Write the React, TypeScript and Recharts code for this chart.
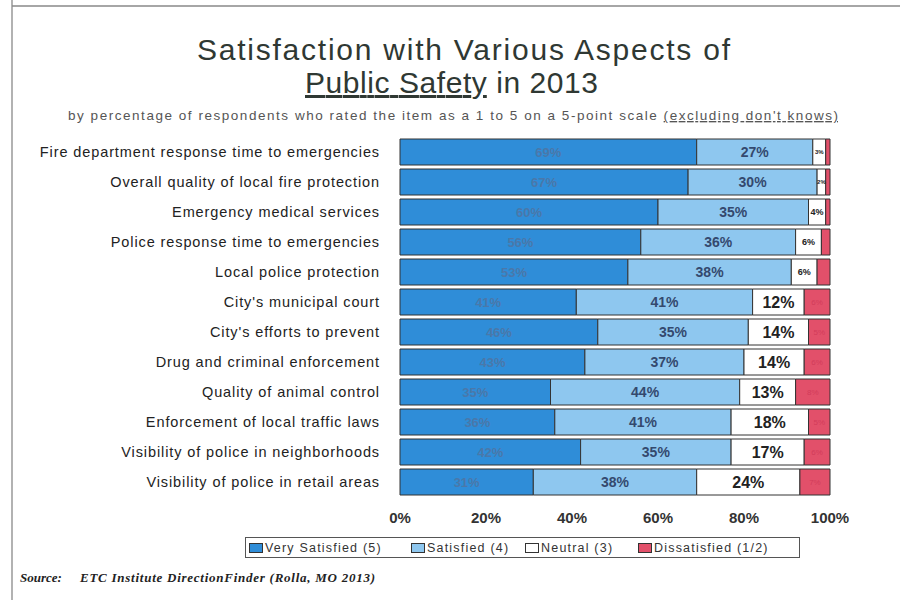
import React from "react";
import { Bar, BarChart, LabelList, XAxis, YAxis } from "recharts";

const categories = [
  "Fire department response time to emergencies",
  "Overall quality of local fire protection",
  "Emergency medical services",
  "Police response time to emergencies",
  "Local police protection",
  "City's municipal court",
  "City's efforts to prevent",
  "Drug and criminal enforcement",
  "Quality of animal control",
  "Enforcement of local traffic laws",
  "Visibility of police in neighborhoods",
  "Visibility of police in retail areas",
];
const verySatisfied = [69, 67, 60, 56, 53, 41, 46, 43, 35, 36, 42, 31];
const satisfied = [27, 30, 35, 36, 38, 41, 35, 37, 44, 41, 35, 38];
const neutral = [3, 2, 4, 6, 6, 12, 14, 14, 13, 18, 17, 24];
const dissatisfied = [1, 1, 1, 2, 3, 6, 5, 6, 8, 5, 6, 7];
const xTicks = [0, 20, 40, 60, 80, 100];

const series = [
  { key: "verySatisfied", name: "Very Satisfied (5)", color: "#2f8dd8" },
  { key: "satisfied", name: "Satisfied (4)", color: "#8ec7ef" },
  { key: "neutral", name: "Neutral (3)", color: "#ffffff" },
  { key: "dissatisfied", name: "Dissatisfied (1/2)", color: "#e2506a" },
];
const legendWidths = [162, 114, 113, 160];

const data = categories.map((name, i) => ({
  name,
  verySatisfied: verySatisfied[i],
  satisfied: satisfied[i],
  neutral: neutral[i],
  dissatisfied: dissatisfied[i],
}));

const font = "Liberation Sans, Arial, sans-serif";

const labelFor = (kind: string) => (props: any) => {
  const { x, y, width, height, value } = props;
  const cx = x + width / 2;
  const cy = y + height / 2;
  if (kind === "vs") {
    return (
      <text x={cx} y={cy} dy="0.35em" textAnchor="middle" fontSize={13} fontWeight="bold" fill="#4a78aa" fontFamily={font}>
        {value}%
      </text>
    );
  }
  if (kind === "s") {
    return (
      <text x={cx} y={cy} dy="0.35em" textAnchor="middle" fontSize={14} fontWeight="bold" fill="#34496e" fontFamily={font}>
        {value}%
      </text>
    );
  }
  if (kind === "n") {
    const big = value >= 10;
    const fs = big ? 16 : value >= 4 ? 9 : 6;
    return (
      <text x={cx} y={cy} dy="0.35em" textAnchor="middle" fontSize={fs} fontWeight="bold" fill="#222" fontFamily={font}>
        {value}%
      </text>
    );
  }
  if (value < 5) return null;
  return (
    <text x={cx} y={cy} dy="0.35em" textAnchor="middle" fontSize={8} fill="#d23c5a" fontFamily={font}>
      {value}%
    </text>
  );
};

const CategoryTick = (props: any) => {
  const { x, y, payload } = props;
  return (
    <text x={x - 12} y={y} dy="0.35em" textAnchor="end" fontSize={14.5} letterSpacing={0.9} fill="#222" fontFamily={font}>
      {payload.value}
    </text>
  );
};

export default function App() {
  return (
    <div style={{ position: "absolute", left: 0, top: 0, width: 900, height: 600, background: "#fff" }}>
      <svg width={900} height={600} style={{ position: "absolute", left: 0, top: 0 }}>
        <line x1={12} y1={0} x2={12} y2={600} stroke="#999" strokeWidth={1.5} />
        <line x1={12} y1={6} x2={900} y2={6} stroke="#888" strokeWidth={1.5} />
        <text x={197} y={60} fontSize={30} fill="#2f3833" fontFamily={font} textLength={533} lengthAdjust="spacing">
          Satisfaction with Various Aspects of
        </text>
        <text x={305} y={93} fontSize={30} fill="#2f3833" fontFamily={font} textLength={293} lengthAdjust="spacing">
          <tspan style={{ textDecoration: "underline" }}>Public Safety</tspan> in 2013
        </text>
        <text x={68} y={120} fontSize={13.5} fill="#555" fontFamily={font} textLength={770} lengthAdjust="spacing">
          by percentage of respondents who rated the item as a 1 to 5 on a 5-point scale{" "}
          <tspan style={{ textDecoration: "underline" }}>(excluding don't knows)</tspan>
        </text>
        <text x={20} y={582} fontSize={13} fill="#222" fontFamily="Liberation Serif, serif" fontStyle="italic" fontWeight="bold">
          Source:
        </text>
        <text x={80} y={582} fontSize={13} fill="#222" fontFamily="Liberation Serif, serif" fontStyle="italic" fontWeight="bold" textLength={295} lengthAdjust="spacing">
          ETC Institute DirectionFinder (Rolla, MO 2013)
        </text>
      </svg>
      <div style={{ position: "absolute", left: 0, top: 0 }}>
        <BarChart
          width={900}
          height={600}
          data={data}
          layout="vertical"
          margin={{ top: 137, right: 70, bottom: 73, left: 0 }}
          barCategoryGap={2}
        >
          <XAxis
            type="number"
            domain={[0, 100]}
            ticks={xTicks}
            tickFormatter={(v) => `${v}%`}
            axisLine={false}
            tickLine={false}
            height={30}
            tickMargin={9}
            tick={{ fontSize: 15, fill: "#333", fontFamily: font, fontWeight: "bold" }}
            interval={0}
          />
          <YAxis type="category" dataKey="name" width={400} axisLine={false} tickLine={false} tick={<CategoryTick />} interval={0} />
          <Bar dataKey="verySatisfied" stackId="a" fill={series[0].color} stroke="#333" strokeWidth={1} isAnimationActive={false}>
            <LabelList dataKey="verySatisfied" content={labelFor("vs")} />
          </Bar>
          <Bar dataKey="satisfied" stackId="a" fill={series[1].color} stroke="#333" strokeWidth={1} isAnimationActive={false}>
            <LabelList dataKey="satisfied" content={labelFor("s")} />
          </Bar>
          <Bar dataKey="neutral" stackId="a" fill={series[2].color} stroke="#333" strokeWidth={1} isAnimationActive={false}>
            <LabelList dataKey="neutral" content={labelFor("n")} />
          </Bar>
          <Bar dataKey="dissatisfied" stackId="a" fill={series[3].color} stroke="#333" strokeWidth={1} isAnimationActive={false}>
            <LabelList dataKey="dissatisfied" content={labelFor("d")} />
          </Bar>
        </BarChart>
      </div>
      <div
        style={{
          position: "absolute",
          left: 245,
          top: 537,
          width: 553,
          height: 19,
          border: "1px solid #555",
          display: "flex",
          alignItems: "center",
          fontFamily: font,
          fontSize: 12.5,
          letterSpacing: 1.2,
          color: "#333",
          whiteSpace: "nowrap",
        }}
      >
        {series.map((s, i) => (
          <span key={s.key} style={{ display: "flex", alignItems: "center", width: legendWidths[i], marginLeft: i === 0 ? 3 : 0 }}>
            <span style={{ display: "inline-block", width: 12, height: 8, background: s.color, border: "1px solid #333", marginRight: 2 }} />
            {s.name}
          </span>
        ))}
      </div>
    </div>
  );
}
